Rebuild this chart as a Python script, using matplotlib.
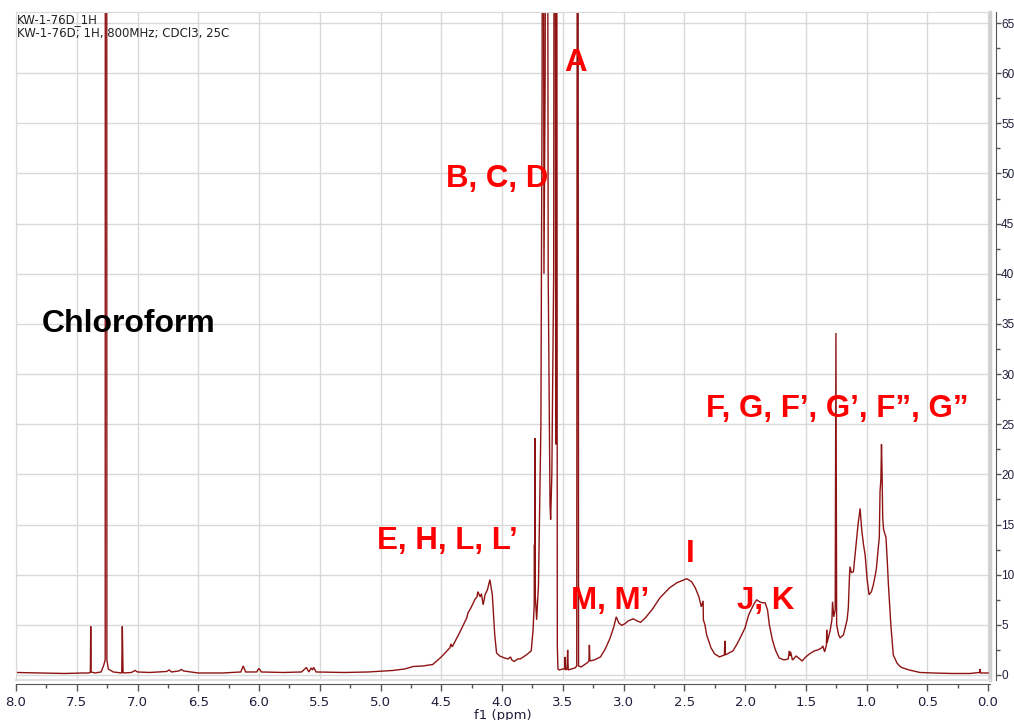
import matplotlib
matplotlib.use("Agg")
import matplotlib.pyplot as plt
from matplotlib.ticker import MultipleLocator, FormatStrFormatter
from matplotlib.lines import Line2D

# 1H trace, chemical shift (ppm) and intensity, high field at the right
ppm = [
    8.00, 7.80, 7.60, 7.45, 7.40, 7.388, 7.385, 7.382, 7.35, 7.30,
    7.28, 7.266, 7.264, 7.254, 7.252, 7.24, 7.20, 7.13, 7.125, 7.119,
    7.05, 7.02, 7.00, 6.90, 6.76, 6.74, 6.72, 6.66, 6.64, 6.62,
    6.50, 6.30, 6.15, 6.13, 6.11, 6.02, 6.00, 5.98, 5.80, 5.65,
    5.61, 5.59, 5.57, 5.56, 5.55, 5.53, 5.30, 5.10, 4.90, 4.80,
    4.73, 4.65, 4.57, 4.50, 4.43, 4.42, 4.41, 4.35, 4.29, 4.28,
    4.26, 4.22, 4.205, 4.20, 4.195, 4.18, 4.17, 4.155, 4.14, 4.12,
    4.10, 4.08, 4.06, 4.045, 4.02, 3.98, 3.95, 3.93, 3.92, 3.90,
    3.87, 3.85, 3.80, 3.76, 3.745, 3.735, 3.733, 3.731, 3.729, 3.727,
    3.715, 3.70, 3.68, 3.67, 3.665, 3.655, 3.645, 3.632, 3.62, 3.605,
    3.60, 3.59, 3.575, 3.566, 3.558, 3.556, 3.553, 3.545, 3.54, 3.53,
    3.50, 3.485, 3.481, 3.477, 3.465, 3.46, 3.455, 3.43, 3.40, 3.385,
    3.378, 3.37, 3.35, 3.30, 3.285, 3.281, 3.277, 3.24, 3.19, 3.15,
    3.11, 3.08, 3.06, 3.04, 3.015, 2.99, 2.96, 2.92, 2.89, 2.86,
    2.82, 2.76, 2.70, 2.62, 2.56, 2.50, 2.48, 2.44, 2.41, 2.38,
    2.36, 2.345, 2.343, 2.33, 2.316, 2.28, 2.25, 2.21, 2.17, 2.166,
    2.162, 2.10, 2.07, 2.04, 2.00, 1.97, 1.93, 1.905, 1.88, 1.86,
    1.835, 1.815, 1.80, 1.775, 1.75, 1.72, 1.68, 1.645, 1.635, 1.63,
    1.625, 1.61, 1.60, 1.58, 1.56, 1.53, 1.50, 1.47, 1.43, 1.40,
    1.37, 1.36, 1.345, 1.33, 1.328, 1.325, 1.30, 1.285, 1.28, 1.27,
    1.258, 1.252, 1.246, 1.23, 1.218, 1.19, 1.16, 1.15, 1.14, 1.136,
    1.125, 1.108, 1.09, 1.07, 1.053, 1.04, 1.025, 1.012, 0.995, 0.979,
    0.96, 0.944, 0.92, 0.905, 0.895, 0.889, 0.882, 0.877, 0.872, 0.867,
    0.86, 0.84, 0.83, 0.82, 0.80, 0.78, 0.75, 0.72, 0.70, 0.65,
    0.56, 0.45, 0.30, 0.15, 0.07, 0.066, 0.062, 0.00, -0.016,
]
intensity = [
    0.25, 0.2, 0.15, 0.2, 0.2, 0.3, 4.85, 0.3, 0.2, 0.3,
    0.9, 1.5, 150, 150, 1.5, 0.6, 0.3, 0.2, 4.85, 0.2,
    0.25, 0.45, 0.3, 0.25, 0.35, 0.5, 0.3, 0.4, 0.55, 0.4,
    0.2, 0.2, 0.3, 0.9, 0.3, 0.3, 0.65, 0.3, 0.25, 0.3,
    0.75, 0.3, 0.7, 0.5, 0.75, 0.3, 0.25, 0.3, 0.45, 0.6,
    0.85, 0.9, 1.05, 1.8, 2.7, 3.1, 2.8, 4.2, 5.7, 6.2,
    6.6, 7.6, 7.8, 8.3, 8.2, 7.8, 8.1, 7.0, 8.0, 8.5,
    9.5, 8.0, 4.0, 2.2, 1.9, 1.7, 1.6, 1.8, 1.5, 1.35,
    1.6, 1.6, 2.0, 2.4, 4.4, 7.0, 13.0, 7.5, 23.6, 8.0,
    5.5, 9.0, 25.0, 60.0, 150, 40.0, 60.0, 150, 40.0, 17.0,
    15.5, 20.0, 40.0, 150, 23.0, 43.0, 150, 3.0, 0.6, 0.5,
    0.6, 0.6, 1.8, 0.5, 0.6, 2.5, 0.5, 0.6, 0.7, 0.9,
    150, 0.9, 0.8, 1.2, 1.4, 3.0, 1.4, 1.5, 1.8, 2.6,
    3.7, 4.8, 5.8, 5.2, 4.95, 5.1, 5.4, 5.6, 5.4, 5.25,
    5.7, 6.6, 7.7, 8.7, 9.2, 9.5, 9.6, 9.3, 8.7, 7.8,
    6.8, 7.4, 5.5, 5.0, 4.0, 2.7, 2.1, 1.8, 2.0, 3.4,
    2.0, 2.4, 3.0, 3.7, 4.7, 6.0, 7.0, 7.5, 7.3, 7.2,
    7.2, 6.5, 5.0, 3.5, 2.5, 1.7, 1.5, 1.6, 2.4, 1.9,
    2.3, 1.5, 1.6, 1.9, 1.7, 1.4, 1.8, 2.1, 2.4, 2.5,
    2.7, 2.9, 2.3, 3.0, 4.5, 3.2, 4.4, 5.5, 7.3, 5.8,
    6.5, 34.1, 5.0, 4.0, 3.7, 4.0, 5.5, 6.7, 10.0, 10.8,
    10.2, 10.3, 12.5, 15.0, 16.6, 14.5, 13.0, 12.0, 9.5, 8.0,
    8.3, 9.0, 10.5, 12.5, 13.7, 18.3, 19.5, 23.0, 20.0, 15.7,
    14.5, 13.7, 11.5, 9.0, 5.0, 2.0, 1.2, 0.8, 0.7, 0.5,
    0.25, 0.2, 0.15, 0.15, 0.25, 0.6, 0.2, 0.2, 0.2,
]

# peak assignments: text, ppm, intensity
label_text = ["A", "B, C, D", "E, H, L, L\u2019", "M, M\u2019", "I", "J, K",
              "F, G, F\u2019, G\u2019, F\u201d, G\u201d"]
label_ppm = [3.391, 4.041, 4.453, 3.111, 2.453, 1.827, 1.243]
label_int = [61.0, 49.45, 13.36, 7.38, 12.06, 7.38, 26.5]

solvent_text = "Chloroform"
solvent_ppm = 7.07
solvent_int = 35.0

title_lines = ["KW-1-76D_1H", "KW-1-76D; 1H, 800MHz; CDCl3, 25C"]

trace_color = "#8e1414"
grid_color = "#d9d9d9"
tick_color = "#1e1e3c"

fig = plt.figure(figsize=(10.14, 7.2), dpi=100)
ax = fig.add_axes([16 / 1014, 1 - 680 / 720, 974 / 1014, 668 / 720])

ax.plot(ppm, intensity, color=trace_color, lw=1.0, solid_joinstyle="miter")

ax.set_xlim(8.0, -0.016)
ax.set_ylim(-0.5, 66.1)

ax.xaxis.set_major_locator(MultipleLocator(0.5))
ax.xaxis.set_minor_locator(MultipleLocator(0.25))
ax.xaxis.set_major_formatter(FormatStrFormatter("%.1f"))
ax.yaxis.set_major_locator(MultipleLocator(5))
ax.yaxis.set_minor_locator(MultipleLocator(2.5))
ax.yaxis.tick_right()

ax.grid(True, which="major", color=grid_color, lw=1.0)
ax.set_axisbelow(True)

for side in ("left", "top"):
    ax.spines[side].set_color(grid_color)
ax.spines["right"].set_position(("outward", 4))
ax.spines["bottom"].set_position(("outward", 3))
ax.spines["right"].set_color("#555555")
ax.spines["bottom"].set_color("#555555")
# light frame edge on the right of the plotting area
ax.add_line(Line2D([1, 1], [0, 1], transform=ax.transAxes,
                   color="#d0d0d0", lw=2.5, clip_on=False))
ax.add_line(Line2D([0, 1], [0, 0], transform=ax.transAxes,
                   color="#e0e0e0", lw=1.5, clip_on=False))

ax.tick_params(axis="x", which="major", length=5, width=1,
               color="#555555", labelcolor=tick_color, labelsize=9.5)
ax.tick_params(axis="x", which="minor", length=3, width=1, color="#555555")
ax.tick_params(axis="y", which="major", length=3.5, width=1, pad=0.5,
               color="#555555", labelcolor=tick_color, labelsize=8.5)
ax.tick_params(axis="y", which="minor", length=3, width=1, color="#555555")
for lbl in ax.get_yticklabels():
    lbl.set_family("Liberation Sans")
ax.set_xlabel("f1 (ppm)", fontsize=9.5, color=tick_color, labelpad=0)

for i, line in enumerate(title_lines):
    ax.text(0.001, 0.998 - i * 0.0205, line, transform=ax.transAxes,
            ha="left", va="top", fontsize=8.5, color="#222222")

ax.text(solvent_ppm, solvent_int, solvent_text, ha="center", va="center",
        fontsize=23, fontweight="bold", family="Liberation Sans",
        color="black")

for text, x, y in zip(label_text, label_ppm, label_int):
    ax.text(x, y, text, ha="center", va="center", fontsize=22.5,
            fontweight="bold", family="Liberation Sans", color="#ff0000")

fig.savefig("out.png", dpi=100)
